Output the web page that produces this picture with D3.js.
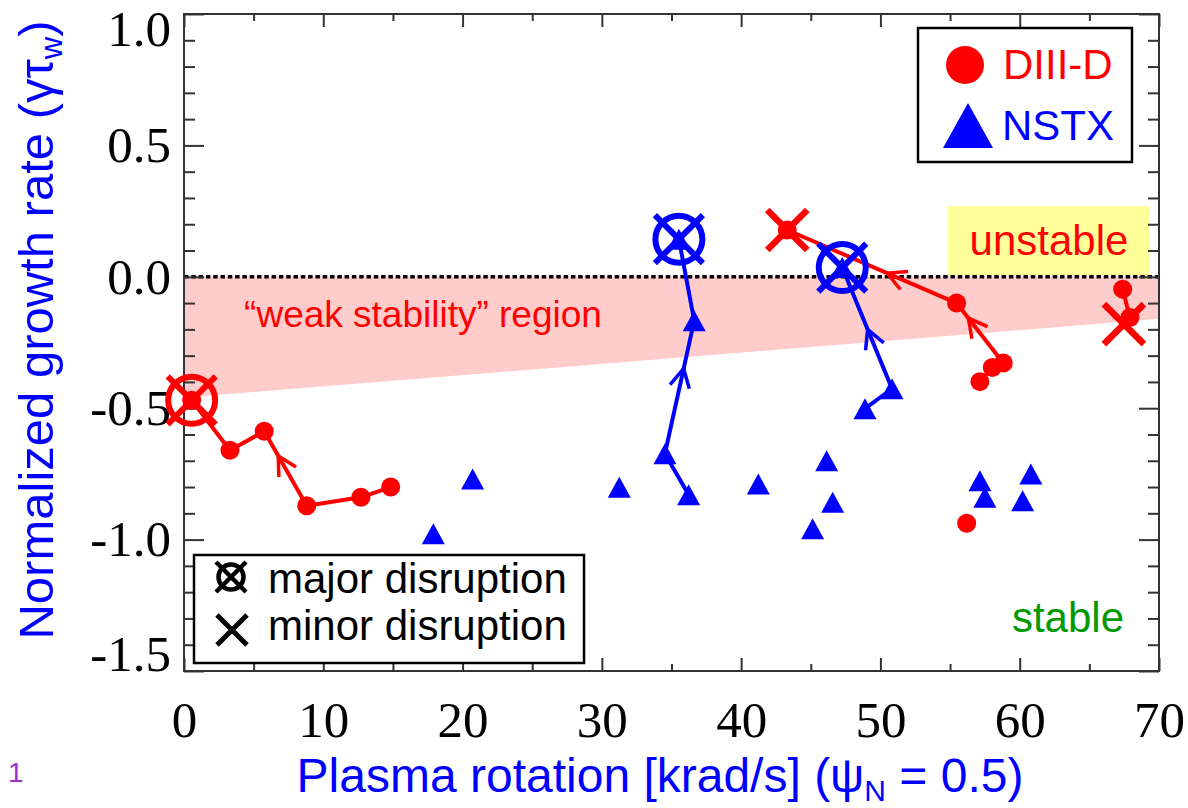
<!DOCTYPE html>
<html>
<head>
<meta charset="utf-8">
<script src="https://cdn.jsdelivr.net/npm/d3@7"></script>
<style>
  html, body { margin: 0; padding: 0; background: #fff; }
  svg { display: block; }
</style>
</head>
<body>
<svg id="chart" width="1188" height="808"></svg>
<script>
// ---- data: plasma rotation (krad/s) vs normalized growth rate, time-ordered tracks ----
const xTicks = [0, 10, 20, 30, 40, 50, 60, 70];
const yTicks = [-1.5, -1.0, -0.5, 0.0, 0.5, 1.0];

// DIII-D discharge tracks (last point is where the discharge terminated)
const diiidTrackA_rot = [14.84, 12.7, 8.81, 5.76, 3.3, 0.55];
const diiidTrackA_gam = [-0.80, -0.839, -0.871, -0.588, -0.66, -0.47];
const diiidTrackB_rot = [57.14, 58.03, 58.82, 55.47, 43.31];
const diiidTrackB_gam = [-0.399, -0.345, -0.328, -0.100, 0.178];
const diiidTrackC_rot = [67.39, 67.91];
const diiidTrackC_gam = [-0.047, -0.155];
const diiidSingle_rot = [56.19];
const diiidSingle_gam = [-0.938];

// NSTX discharge tracks
const nstxTrackA_rot = [36.23, 34.53, 36.63, 35.53];
const nstxTrackA_gam = [-0.829, -0.673, -0.167, 0.143];
const nstxTrackB_rot = [48.89, 50.83, 47.26];
const nstxTrackB_gam = [-0.502, -0.426, 0.035];
const nstxSingle_rot = [20.72, 17.9, 31.25, 41.23, 46.14, 46.57, 45.13, 57.14, 57.5, 60.8, 60.21];
const nstxSingle_gam = [-0.769, -0.978, -0.801, -0.788, -0.700, -0.858, -0.959, -0.776, -0.839, -0.750, -0.852];

// disruption events
const disruptMachine = ["DIII-D", "DIII-D", "DIII-D", "NSTX", "NSTX"];
const disruptKind    = ["major", "minor", "minor", "major", "major"];
const disruptRot     = [0.55, 43.31, 67.48, 35.53, 47.26];
const disruptGam     = [-0.47, 0.178, -0.18, 0.143, 0.035];

// time-direction arrows: which segment of a track, and fraction along it
const arrowTrack = ["dA", "dB", "dB", "nA", "nB"];
const arrowSeg   = [2, 2, 3, 1, 1];
const arrowFrac  = [0.67, 0.75, 0.41, 0.64, 0.49];

// "weak stability" band: from gamma = 0 down to a line in rotation
const weakLower_rot = [0, 70];
const weakLower_gam = [-0.46, -0.16];

const RED = "#ff0000", BLUE = "#0000ff";
const SANS = "'Liberation Sans', Arial, sans-serif";
const SERIF = "'Liberation Serif', 'Times New Roman', serif";

const svg = d3.select("#chart");
const L = 184, R = 1159, T = 14, B = 671;
const x = d3.scaleLinear().domain([0, 70]).range([L, R]);
const y = d3.scaleLinear().domain([-1.5, 1.0]).range([B, T]);

const zip = (a, b) => a.map((v, i) => [v, b[i]]);
const tracks = {
  dA: { pts: zip(diiidTrackA_rot, diiidTrackA_gam), color: RED, m: "circle" },
  dB: { pts: zip(diiidTrackB_rot, diiidTrackB_gam), color: RED, m: "circle" },
  dC: { pts: zip(diiidTrackC_rot, diiidTrackC_gam), color: RED, m: "circle" },
  nA: { pts: zip(nstxTrackA_rot, nstxTrackA_gam), color: BLUE, m: "tri" },
  nB: { pts: zip(nstxTrackB_rot, nstxTrackB_gam), color: BLUE, m: "tri" }
};

// ---- shaded regions ----
const weakPoly = [
  [x(0), y(0)], [x(70), y(0)],
  [x(weakLower_rot[1]), y(weakLower_gam[1])],
  [x(weakLower_rot[0]), y(weakLower_gam[0])]
];
svg.append("polygon").attr("points", weakPoly.map(p => p.join(",")).join(" "))
  .attr("fill", "#ffcccc");

svg.append("rect").attr("x", 948).attr("y", 206).attr("width", 201).attr("height", 69)
  .attr("fill", "#ffff99");

svg.append("line").attr("x1", x(0)).attr("x2", x(70)).attr("y1", y(0)).attr("y2", y(0))
  .attr("stroke", "#000").attr("stroke-width", 3.5).attr("stroke-dasharray", "4.5,2.8");

// region labels
svg.append("text").attr("x", 1049).attr("y", 255).attr("text-anchor", "middle")
  .attr("font-family", SANS).attr("font-size", 42).attr("fill", RED).text("unstable");
svg.append("text").attr("x", 423).attr("y", 327).attr("text-anchor", "middle")
  .attr("font-family", SANS).attr("font-size", 37).attr("fill", RED)
  .text("\u201Cweak stability\u201D region");
svg.append("text").attr("x", 1068).attr("y", 632).attr("text-anchor", "middle")
  .attr("font-family", SANS).attr("font-size", 42).attr("fill", "#009900").text("stable");

// ---- axes: inward ticks on all four sides ----
const xMinor = d3.range(5, 70, 10);
const yMinor = d3.range(-15, 10, 1).map(v => v / 10).filter(v => Math.abs(v * 2 - Math.round(v * 2)) > 1e-6);
function ticks(axisGen, scale, vals, size, tx, ty) {
  const g = svg.append("g").attr("transform", `translate(${tx},${ty})`)
    .call(axisGen(scale).tickValues(vals).tickSize(size).tickFormat(""));
  g.select(".domain").remove();
  g.selectAll(".tick line").attr("stroke", "#333").attr("stroke-width", 2);
}
ticks(d3.axisTop, x, xTicks, 13, 0, B);
ticks(d3.axisTop, x, xMinor, 7, 0, B);
ticks(d3.axisBottom, x, xTicks, 13, 0, T);
ticks(d3.axisBottom, x, xMinor, 7, 0, T);
ticks(d3.axisRight, y, yTicks, 20, L, 0);
ticks(d3.axisRight, y, yMinor, 11, L, 0);
ticks(d3.axisLeft, y, yTicks, 20, R, 0);
ticks(d3.axisLeft, y, yMinor, 11, R, 0);

svg.append("rect").attr("x", L).attr("y", T).attr("width", R - L).attr("height", B - T)
  .attr("fill", "none").attr("stroke", "#333").attr("stroke-width", 2);

// tick labels
const xl = svg.append("g").attr("transform", `translate(0,${B})`)
  .call(d3.axisBottom(x).tickValues(xTicks).tickSize(0).tickPadding(30).tickFormat(d3.format("d")));
xl.select(".domain").remove();
xl.selectAll("text").attr("font-family", SERIF).attr("font-size", 51).attr("fill", "#000");

const yl = svg.append("g").attr("transform", `translate(${L},0)`)
  .call(d3.axisLeft(y).tickValues(yTicks).tickSize(0).tickPadding(13).tickFormat(d => d.toFixed(1)));
yl.select(".domain").remove();
yl.selectAll("text").attr("font-family", SERIF).attr("font-size", 51).attr("fill", "#000")
  .attr("transform", d => d === 1.0 ? "translate(0,15)" : d === -1.5 ? "translate(0,-17)" : null);

// axis titles
const xt = svg.append("text").attr("x", 660).attr("y", 792).attr("text-anchor", "middle")
  .attr("font-family", SANS).attr("font-size", 48).attr("fill", BLUE);
xt.append("tspan").text("Plasma rotation [krad/s] (\u03C8");
xt.append("tspan").attr("font-size", 30).attr("dy", 9).text("N");
xt.append("tspan").attr("dy", -9).text(" = 0.5)");

const yt = svg.append("text").attr("transform", "translate(53,330) rotate(-90)")
  .attr("text-anchor", "middle").attr("font-family", SANS).attr("font-size", 49).attr("fill", BLUE);
yt.append("tspan").text("Normalized growth rate (\u03B3\u03C4");
yt.append("tspan").attr("font-size", 31).attr("dy", 9).text("w");
yt.append("tspan").attr("dy", -9).text(")");

svg.append("text").attr("x", 8).attr("y", 782).attr("font-family", SANS).attr("font-size", 28)
  .attr("fill", "#9933cc").text("1");

// ---- marker helpers ----
function triPath(cx, cy, w, h) {
  return `M${cx},${cy - h / 2}L${cx + w / 2},${cy + h / 2}L${cx - w / 2},${cy + h / 2}Z`;
}
function marker(g, kind, px, py, color) {
  if (kind === "circle") {
    g.append("circle").attr("cx", px).attr("cy", py).attr("r", 9.5).attr("fill", color);
  } else {
    g.append("path").attr("d", triPath(px, py, 23, 21)).attr("fill", color);
  }
}

const plot = svg.append("g");
const line = d3.line().x(d => x(d[0])).y(d => y(d[1]));

// track lines
Object.values(tracks).forEach(t => {
  plot.append("path").attr("d", line(t.pts)).attr("fill", "none")
    .attr("stroke", t.color).attr("stroke-width", 4).attr("stroke-linejoin", "round");
});

// time-direction chevrons
arrowTrack.forEach((k, i) => {
  const t = tracks[k];
  const a = t.pts[arrowSeg[i]], b = t.pts[arrowSeg[i] + 1];
  const ax = x(a[0]), ay = y(a[1]), bx = x(b[0]), by = y(b[1]);
  const f = arrowFrac[i];
  const tx = ax + (bx - ax) * f, ty = ay + (by - ay) * f;
  const ang = Math.atan2(ay - by, ax - bx);
  const len = 21, spread = 28 * Math.PI / 180;
  const p1 = [tx + len * Math.cos(ang + spread), ty + len * Math.sin(ang + spread)];
  const p2 = [tx + len * Math.cos(ang - spread), ty + len * Math.sin(ang - spread)];
  plot.append("path").attr("d", `M${p1}L${tx},${ty}L${p2}`).attr("fill", "none")
    .attr("stroke", t.color).attr("stroke-width", 3.5);
});

// track markers
Object.values(tracks).forEach(t => {
  t.pts.forEach(p => marker(plot, t.m, x(p[0]), y(p[1]), t.color));
});
diiidSingle_rot.forEach((r, i) => marker(plot, "circle", x(r), y(diiidSingle_gam[i]), RED));
nstxSingle_rot.forEach((r, i) => marker(plot, "tri", x(r), y(nstxSingle_gam[i]), BLUE));

// disruption symbols
function cross(g, cx, cy, arm, color, sw) {
  g.append("path").attr("d",
    `M${cx - arm},${cy - arm}L${cx + arm},${cy + arm}M${cx - arm},${cy + arm}L${cx + arm},${cy - arm}`)
    .attr("stroke", color).attr("stroke-width", sw).attr("fill", "none");
}
disruptKind.forEach((kind, i) => {
  const color = disruptMachine[i] === "DIII-D" ? RED : BLUE;
  const px = x(disruptRot[i]), py = y(disruptGam[i]);
  if (kind === "major") {
    plot.append("circle").attr("cx", px).attr("cy", py).attr("r", 23.5)
      .attr("fill", "none").attr("stroke", color).attr("stroke-width", 6);
    cross(plot, px, py, 24, color, 6);
  } else {
    cross(plot, px, py, 20, color, 6.5);
  }
});

// ---- legends ----
const lg1 = svg.append("g");
lg1.append("rect").attr("x", 918).attr("y", 28).attr("width", 214).attr("height", 134)
  .attr("fill", "#fff").attr("stroke", "#000").attr("stroke-width", 2.5);
lg1.append("circle").attr("cx", 965).attr("cy", 65).attr("r", 19).attr("fill", RED);
lg1.append("path").attr("d", triPath(968, 125.5, 50, 45)).attr("fill", BLUE);
lg1.append("text").attr("x", 1003).attr("y", 79).attr("font-family", SANS).attr("font-size", 42)
  .attr("fill", RED).text("DIII-D");
lg1.append("text").attr("x", 1002).attr("y", 140).attr("font-family", SANS).attr("font-size", 42)
  .attr("fill", BLUE).text("NSTX");

const lg2 = svg.append("g");
lg2.append("rect").attr("x", 194).attr("y", 555).attr("width", 390).attr("height", 108)
  .attr("fill", "#fff").attr("stroke", "#000").attr("stroke-width", 2.5);
lg2.append("circle").attr("cx", 231).attr("cy", 577).attr("r", 12.5)
  .attr("fill", "none").attr("stroke", "#000").attr("stroke-width", 4.5);
cross(lg2, 231, 577, 15, "#000", 4.5);
cross(lg2, 232, 630, 15, "#000", 5);
lg2.append("text").attr("x", 268).attr("y", 593).attr("font-family", SANS).attr("font-size", 42)
  .attr("fill", "#000").text("major disruption");
lg2.append("text").attr("x", 268).attr("y", 640).attr("font-family", SANS).attr("font-size", 42)
  .attr("fill", "#000").text("minor disruption");
</script>
</body>
</html>
